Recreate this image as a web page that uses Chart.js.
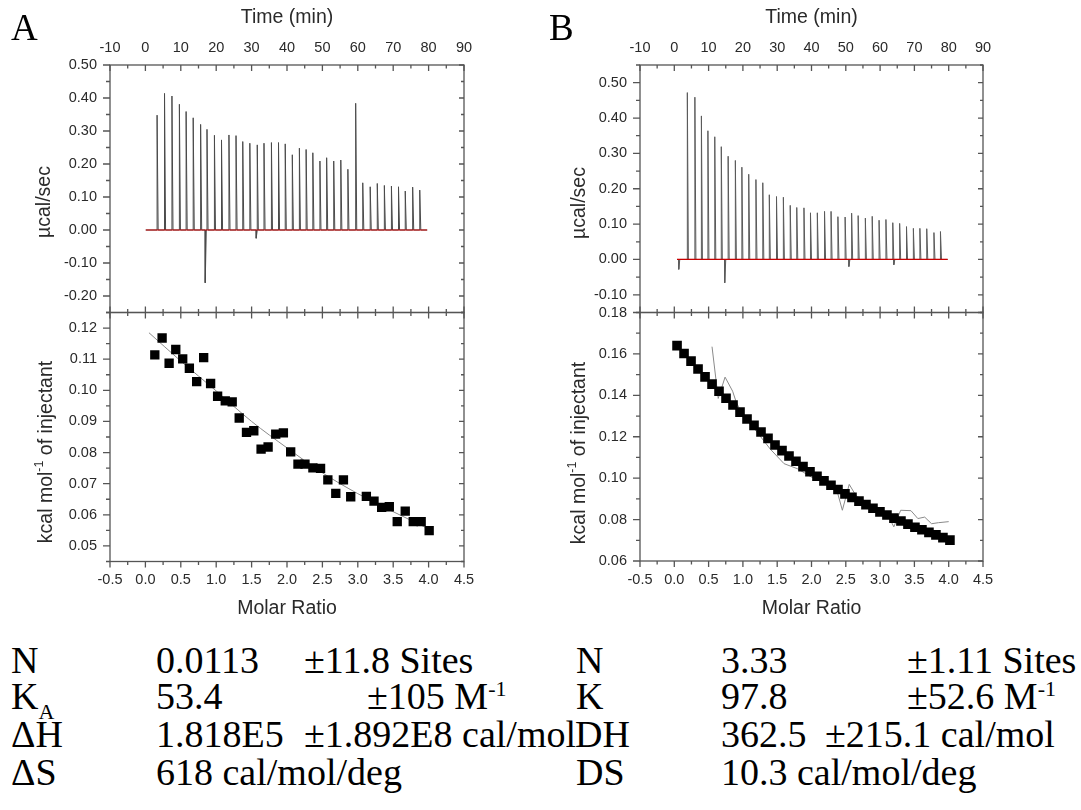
<!DOCTYPE html>
<html><head><meta charset="utf-8">
<script src="https://cdn.jsdelivr.net/npm/chart.js@4/dist/chart.umd.min.js"></script>
<style>
html,body{margin:0;padding:0;background:#fff;width:1081px;height:810px;overflow:hidden;}
#fig{position:relative;width:1081px;height:810px;background:#fff;}
canvas{position:absolute;}
.t{position:absolute;font-family:"Liberation Serif","Times New Roman",serif;font-size:38px;line-height:38px;color:#000;white-space:nowrap;}
.sub{font-size:22px;position:relative;top:10px;}
.sup{font-size:22px;position:relative;top:-13px;}
.letter{position:absolute;font-family:"Liberation Serif","Times New Roman",serif;font-size:37px;line-height:37px;color:#000;}
</style></head>
<body><div id="fig">
<canvas id="aTop" width="540" height="620" style="left:0;top:0"></canvas>
<canvas id="aBot" width="540" height="620" style="left:0;top:0"></canvas>
<canvas id="bTop" width="541" height="620" style="left:540px;top:0"></canvas>
<canvas id="bBot" width="541" height="620" style="left:540px;top:0"></canvas>
<div class="letter" style="left:11px;top:9px">A</div>
<div class="letter" style="left:549px;top:9px">B</div>

<div class="t" style="left:11px;top:641px">N</div>
<div class="t" style="left:156px;top:641px">0.0113</div>
<div class="t" style="left:304px;top:641px">±11.8 Sites</div>
<div class="t" style="left:576px;top:641px">N</div>
<div class="t" style="left:721px;top:641px">3.33</div>
<div class="t" style="left:907px;top:641px">±1.11 Sites</div>

<div class="t" style="left:11px;top:677px">K<span class="sub">A</span></div>
<div class="t" style="left:156px;top:677px">53.4</div>
<div class="t" style="left:367px;top:677px">±105 M<span class="sup">-1</span></div>
<div class="t" style="left:576px;top:677px">K</div>
<div class="t" style="left:721px;top:677px">97.8</div>
<div class="t" style="left:907px;top:677px">±52.6 M<span class="sup">-1</span></div>

<div class="t" style="left:11px;top:715px">ΔH</div>
<div class="t" style="left:156px;top:715px">1.818E5</div>
<div class="t" style="left:304px;top:715px">±1.892E8 cal/mol</div>
<div class="t" style="left:575px;top:715px">DH</div>
<div class="t" style="left:721px;top:715px">362.5</div>
<div class="t" style="left:825px;top:715px">±215.1 cal/mol</div>

<div class="t" style="left:11px;top:753px">ΔS</div>
<div class="t" style="left:156px;top:753px">618 cal/mol/deg</div>
<div class="t" style="left:576px;top:753px">DS</div>
<div class="t" style="left:721px;top:753px">10.3 cal/mol/deg</div>
</div>
<script>
// ---------------- DATA ----------------
const timeTicks  = [-10, 0, 10, 20, 30, 40, 50, 60, 70, 80, 90];
const ratioTicks = [-0.5, 0, 0.5, 1, 1.5, 2, 2.5, 3, 3.5, 4, 4.5];
const rawTicksA  = [-0.2, -0.1, 0, 0.1, 0.2, 0.3, 0.4, 0.5];
const heatTicksA = [0.05, 0.06, 0.07, 0.08, 0.09, 0.10, 0.11, 0.12];
const rawTicksB  = [-0.1, 0, 0.1, 0.2, 0.3, 0.4, 0.5];
const heatTicksB = [0.06, 0.08, 0.10, 0.12, 0.14, 0.16, 0.18];

// Panel A raw thermogram (injection time, peak height in µcal/sec)
const injTimeA = [3.3, 5.4, 7.5, 9.6, 11.5, 13.5, 15.6, 17.4, 19.5, 21.5, 23.6, 25.6, 27.5, 29.5, 31.6, 33.5, 35.6, 37.6, 39.5, 41.5, 43.5, 45.4, 47.3, 49.3, 51.2, 53.2, 55.2, 57.2, 59.4, 61.4, 63.5, 65.5, 67.5, 69.5, 71.5, 73.4, 75.5, 77.5];
const injPeakA = [0.348, 0.414, 0.406, 0.381, 0.359, 0.340, 0.320, 0.305, 0.287, 0.273, 0.288, 0.286, 0.268, 0.263, 0.258, 0.263, 0.265, 0.265, 0.261, 0.228, 0.248, 0.244, 0.234, 0.209, 0.219, 0.209, 0.212, 0.184, 0.384, 0.143, 0.131, 0.141, 0.135, 0.133, 0.131, 0.118, 0.130, 0.121];
const dipTimeA = [16.9, 31.3];
const dipValA  = [-0.160, -0.025];
const baseTimeA = [0.1, 79.6];

// Panel A integrated heats
const ratioA = [0.133, 0.236, 0.335, 0.429, 0.527, 0.621, 0.724, 0.823, 0.921, 1.020, 1.128, 1.226, 1.325, 1.428, 1.531, 1.634, 1.733, 1.841, 1.949, 2.052, 2.155, 2.254, 2.366, 2.474, 2.577, 2.689, 2.797, 2.900, 3.121, 3.229, 3.337, 3.445, 3.557, 3.670, 3.783, 3.895, 4.008];
const heatA  = [0.1114, 0.1168, 0.1087, 0.1131, 0.1101, 0.1071, 0.1028, 0.1105, 0.1022, 0.0981, 0.0966, 0.0963, 0.0911, 0.0865, 0.0870, 0.0811, 0.0818, 0.0859, 0.0863, 0.0802, 0.0763, 0.0763, 0.0751, 0.0749, 0.0712, 0.0669, 0.0712, 0.0658, 0.0659, 0.0644, 0.0624, 0.0626, 0.0578, 0.0612, 0.0578, 0.0578, 0.0549];
const fitRatioA = [0.05, 0.5, 1.0, 1.5, 2.0, 2.5, 3.0, 3.5, 4.0];
const fitHeatA  = [0.1185, 0.1094, 0.0998, 0.0900, 0.0815, 0.0735, 0.0668, 0.0610, 0.0555];

// Panel B raw thermogram
const injTimeB = [3.8, 6.0, 7.9, 9.8, 11.8, 13.7, 15.7, 17.8, 19.7, 21.7, 23.8, 25.8, 27.7, 29.8, 31.8, 33.8, 35.7, 37.8, 39.7, 41.7, 43.8, 45.7, 47.7, 49.8, 51.7, 53.6, 55.7, 57.7, 59.7, 61.7, 63.7, 65.7, 67.7, 69.7, 71.6, 73.6, 75.7, 77.6];
const injPeakB = [0.472, 0.459, 0.406, 0.364, 0.347, 0.319, 0.292, 0.280, 0.261, 0.241, 0.226, 0.217, 0.183, 0.178, 0.176, 0.153, 0.147, 0.146, 0.132, 0.132, 0.136, 0.136, 0.121, 0.120, 0.131, 0.124, 0.117, 0.122, 0.111, 0.113, 0.104, 0.102, 0.093, 0.088, 0.088, 0.087, 0.076, 0.079];
const dipTimeB = [1.3, 14.7, 50.9, 64.0];
const dipValB  = [-0.028, -0.066, -0.020, -0.015];
const baseTimeB = [0.8, 79.7];

// Panel B integrated heats (squares) and raw integrated trace (grey line)
const ratioB = [0.040, 0.142, 0.244, 0.346, 0.448, 0.550, 0.652, 0.754, 0.856, 0.958, 1.060, 1.162, 1.264, 1.366, 1.468, 1.570, 1.672, 1.774, 1.876, 1.978, 2.080, 2.182, 2.284, 2.386, 2.488, 2.590, 2.692, 2.794, 2.896, 2.998, 3.100, 3.202, 3.304, 3.406, 3.508, 3.610, 3.712, 3.814, 3.916, 4.018];
const heatB  = [0.1640, 0.1602, 0.1565, 0.1527, 0.1489, 0.1454, 0.1420, 0.1386, 0.1353, 0.1319, 0.1286, 0.1255, 0.1223, 0.1192, 0.1160, 0.1133, 0.1107, 0.1082, 0.1056, 0.1031, 0.1009, 0.0987, 0.0966, 0.0945, 0.0924, 0.0907, 0.0889, 0.0872, 0.0855, 0.0837, 0.0822, 0.0807, 0.0793, 0.0778, 0.0763, 0.0751, 0.0738, 0.0726, 0.0713, 0.0701];
const lineRatioB = [0.55, 0.64, 0.74, 0.85, 0.90, 1.0, 1.2, 1.4, 1.6, 1.8, 2.0, 2.2, 2.35, 2.45, 2.55, 2.65, 2.8, 3.0, 3.1, 3.2, 3.3, 3.45, 3.55, 3.65, 3.75, 3.85, 4.0];
const lineHeatB  = [0.1635, 0.1385, 0.1488, 0.1420, 0.1370, 0.1300, 0.1225, 0.1140, 0.1070, 0.1045, 0.1005, 0.0985, 0.0965, 0.0845, 0.0970, 0.0915, 0.0885, 0.0840, 0.0830, 0.0765, 0.0845, 0.0843, 0.0805, 0.0812, 0.0780, 0.0785, 0.0790];

// ---------------- HELPERS ----------------
const SANS = '"Liberation Sans", Arial, sans-serif';
const tickFont = {family: SANS, size: 14.5};
const titleFont = {family: SANS, size: 19.5};
const TXT = '#2a2a2a';

function thermo(times, peaks, dipT, dipV, base) {
  const ev = times.map((t, i) => ({t, v: peaks[i]}))
    .concat(dipT.map((t, i) => ({t, v: dipV[i]})))
    .sort((a, b) => a.t - b.t);
  const pts = [{x: base[0], y: 0}];
  ev.forEach(e => { pts.push({x: e.t, y: 0}, {x: e.t, y: e.v}, {x: e.t + 0.3, y: 0}); });
  pts.push({x: base[1], y: 0});
  return pts;
}
const xy = (xs, ys) => xs.map((x, i) => ({x, y: ys[i]}));

function minorVals(s) {
  const v = s.ticks.map(t => t.value), out = [];
  const h = (v[1] - v[0]) / 2;
  for (let i = 0; i < v.length - 1; i++) out.push((v[i] + v[i + 1]) / 2);
  if (v[0] - h >= s.min - 1e-9) out.unshift(v[0] - h);
  if (v[v.length - 1] + h <= s.max + 1e-9) out.push(v[v.length - 1] + h);
  return out;
}

const framePlugin = {
  id: 'frame',
  afterDraw(chart, args, o) {
    const {ctx, chartArea: a, scales} = chart;
    const xs = scales.x, ys = scales.y;
    ctx.save();
    ctx.strokeStyle = '#555';
    ctx.lineWidth = 1.3;
    ctx.strokeRect(a.left, a.top, a.right - a.left, a.bottom - a.top);
    ctx.beginPath();
    const H = (vals, len, side, dir) => vals.forEach(v => {
      const p = xs.getPixelForValue(v);
      if (p < a.left - 0.5 || p > a.right + 0.5) return;
      const y0 = side === 'top' ? a.top : a.bottom;
      const sgn = (side === 'top' ? 1 : -1) * (dir === 'in' ? 1 : -1);
      ctx.moveTo(p, y0); ctx.lineTo(p, y0 + sgn * len);
    });
    const V = (vals, len, side, dir) => vals.forEach(v => {
      const p = ys.getPixelForValue(v);
      if (p < a.top - 0.5 || p > a.bottom + 0.5) return;
      const x0 = side === 'left' ? a.left : a.right;
      const sgn = (side === 'left' ? 1 : -1) * (dir === 'in' ? 1 : -1);
      ctx.moveTo(x0, p); ctx.lineTo(x0 + sgn * len, p);
    });
    const xMaj = xs.ticks.map(t => t.value), xMin = minorVals(xs);
    const yMaj = ys.ticks.map(t => t.value), yMin = minorVals(ys);
    for (const side of ['top', 'bottom']) {
      const dir = o.sides[side];
      H(xMaj, 6, side, dir); H(xMin, 3.5, side, dir);
    }
    for (const side of ['left', 'right']) {
      const dir = o.sides[side];
      const big = side === 'left' ? 7 : 5, small = side === 'left' ? 4 : 3;
      V(yMaj, big, side, dir); V(yMin, small, side, dir);
    }
    ctx.stroke();
    // rotated y-axis title
    const t = o.ytitle;
    ctx.fillStyle = TXT;
    ctx.textBaseline = 'middle';
    const big = '19.5px ' + SANS, small = '12.5px ' + SANS;
    let total = 0;
    t.parts.forEach(p => { ctx.font = p.sup ? small : big; total += ctx.measureText(p.s).width; });
    ctx.translate(t.x, t.y);
    ctx.rotate(-Math.PI / 2);
    let cx = -total / 2;
    t.parts.forEach(p => {
      ctx.font = p.sup ? small : big;
      ctx.textAlign = 'left';
      ctx.fillText(p.s, cx, p.sup ? -7 : 0);
      cx += ctx.measureText(p.s).width;
    });
    ctx.restore();
  }
};

function axis(pos, min, max, ticks, fmt, size, pad, title) {
  const horiz = pos === 'top' || pos === 'bottom';
  return {
    type: 'linear', position: pos, min, max,
    afterBuildTicks: s => { s.ticks = ticks.map(v => ({value: v})); },
    afterFit: s => { if (horiz) s.height = size; else s.width = size; },
    grid: {display: false, drawTicks: false},
    border: {display: false},
    ticks: {padding: pad, font: tickFont, color: TXT, autoSkip: false, maxRotation: 0, callback: fmt},
    title: title ? {display: true, text: title.text, font: titleFont, color: TXT, padding: title.pad} : {display: false}
  };
}

function build(id, cfg) {
  new Chart(document.getElementById(id), {
    type: 'line',
    data: {datasets: cfg.datasets},
    options: {
      responsive: false, animation: false, events: [],
      layout: {padding: cfg.padding},
      plugins: {legend: {display: false}, tooltip: {enabled: false}, frame: cfg.frame},
      scales: {x: cfg.x, y: cfg.y}
    },
    plugins: [framePlugin]
  });
}

const fTime = v => String(v);
const f2 = v => v.toFixed(2);
const f1 = v => v.toFixed(1);

function rawSets(times, peaks, dT, dV, base, col) {
  return [
    {data: thermo(times, peaks, dT, dV, base), borderColor: col, borderWidth: 1, pointRadius: 0, tension: 0, order: 2},
    {data: base.map(t => ({x: t, y: 0})), borderColor: '#c80000', borderWidth: 1.2, pointRadius: 0, order: 1}
  ];
}

// ---------------- PANEL A ----------------
build('aTop', {
  padding: {left: 0, right: 76, top: 0, bottom: 307.5},
  datasets: rawSets(injTimeA, injPeakA, dipTimeA, dipValA, baseTimeA, '#4a4a4a'),
  x: axis('top', -10, 90, timeTicks, fTime, 65, 8, {text: 'Time (min)', pad: {top: 6, bottom: 0}}),
  y: axis('left', -0.25, 0.5, rawTicksA, f2, 110, 13),
  frame: {sides: {top: 'in', bottom: 'in', left: 'out', right: 'in'},
          ytitle: {x: 45, y: 202, parts: [{s: 'µcal/sec'}]}}
});
build('aBot', {
  padding: {left: 0, right: 76, top: 312.5, bottom: 0},
  datasets: [
    {data: xy(ratioA, heatA), showLine: false, pointStyle: 'rect', pointRadius: 6.6, backgroundColor: '#000', borderWidth: 0, order: 1},
    {data: xy(fitRatioA, fitHeatA), borderColor: '#8a8a8a', borderWidth: 1, pointRadius: 0, tension: 0.4, cubicInterpolationMode: 'monotone', order: 2}
  ],
  x: axis('bottom', -0.5, 4.5, ratioTicks, f1, 58.5, 10, {text: 'Molar Ratio', pad: {top: 0, bottom: 0}}),
  y: axis('left', 0.045, 0.125, heatTicksA, f2, 110, 13),
  frame: {sides: {top: 'in', bottom: 'out', left: 'out', right: 'in'},
          ytitle: {x: 47, y: 452, parts: [{s: 'kcal mol'}, {s: '-1', sup: true}, {s: ' of injectant'}]}}
});

// ---------------- PANEL B ----------------
build('bTop', {
  padding: {left: 0, right: 98, top: 0, bottom: 307.5},
  datasets: rawSets(injTimeB, injPeakB, dipTimeB, dipValB, baseTimeB, '#5a5a5a'),
  x: axis('top', -10, 90, timeTicks, fTime, 65, 8, {text: 'Time (min)', pad: {top: 6, bottom: 0}}),
  y: axis('left', -0.15, 0.55, rawTicksB, f2, 100, 13),
  frame: {sides: {top: 'in', bottom: 'in', left: 'out', right: 'in'},
          ytitle: {x: 40, y: 203, parts: [{s: 'µcal/sec'}]}}
});
build('bBot', {
  padding: {left: 0, right: 98, top: 312.5, bottom: 0},
  datasets: [
    {data: xy(ratioB, heatB), showLine: false, pointStyle: 'rect', pointRadius: 6.8, backgroundColor: '#000', borderWidth: 0, order: 1},
    {data: xy(lineRatioB, lineHeatB), borderColor: '#8a8a8a', borderWidth: 1, pointRadius: 0, tension: 0, order: 2}
  ],
  x: axis('bottom', -0.5, 4.5, ratioTicks, f1, 59, 10, {text: 'Molar Ratio', pad: {top: 0, bottom: 0}}),
  y: axis('left', 0.06, 0.18, heatTicksB, f2, 100, 13),
  frame: {sides: {top: 'in', bottom: 'out', left: 'out', right: 'in'},
          ytitle: {x: 40, y: 453, parts: [{s: 'kcal mol'}, {s: '-1', sup: true}, {s: ' of injectant'}]}}
});
</script>
</body></html>
